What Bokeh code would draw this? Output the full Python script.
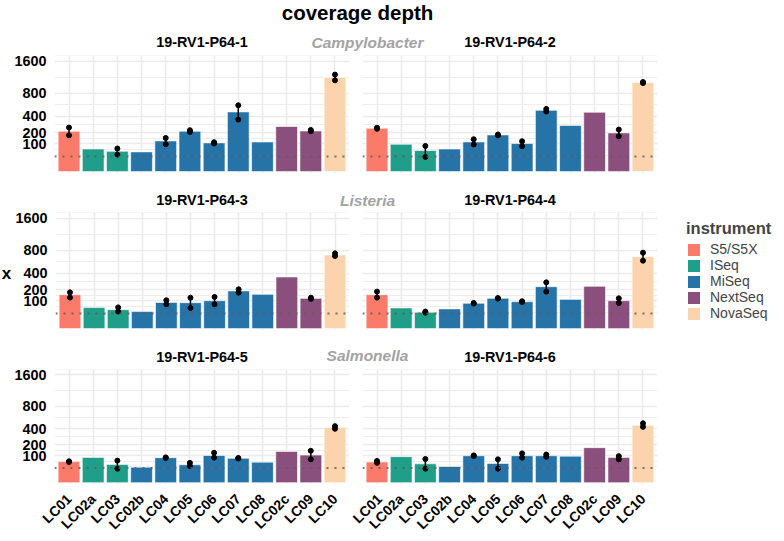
import numpy as np
from bokeh.plotting import figure
from bokeh.models import (ColumnDataSource, FactorRange, Range1d, FixedTicker, CategoricalTicker,
                          Span, Label, Legend, LegendItem, CustomJSTickFormatter)
from bokeh.layouts import column, row
from bokeh.embed import file_html
from bokeh.resources import INLINE

nan = float("nan")

categories = ["LC01", "LC02a", "LC03", "LC02b", "LC04", "LC05", "LC06", "LC07", "LC08", "LC02c", "LC09", "LC10"]
instrument_of = ["S5/S5X", "ISeq", "ISeq", "MiSeq", "MiSeq", "MiSeq", "MiSeq", "MiSeq", "MiSeq",
                 "NextSeq", "NextSeq", "NovaSeq"]
instruments = ["S5/S5X", "ISeq", "MiSeq", "NextSeq", "NovaSeq"]
instrument_colors = ["#FB7B6B", "#1F9E89", "#2573A7", "#8A4F7D", "#FBD4AE"]
panel_names = ["19-RV1-P64-1", "19-RV1-P64-2", "19-RV1-P64-3", "19-RV1-P64-4", "19-RV1-P64-5", "19-RV1-P64-6"]
species = ["Campylobacter", "Listeria", "Salmonella"]
y_ticks = [100, 200, 400, 800, 1600]
threshold = 30

# mean coverage (bar) and replicate range (low / high)
cov_1 = [213, 67, 54, 51, 123, 213, 108, 466, 115, 266, 216, 1157]
lo_1 = [173, nan, 38, nan, 98, 206, 103, 355, nan, nan, 213, 1091]
hi_1 = [254, nan, 70, nan, 148, 224, 113, 576, nan, nan, 227, 1231]

cov_2 = [246, 98, 58, 67, 115, 176, 103, 492, 278, 461, 196, 1037]
lo_2 = [240, nan, 28, nan, 96, 172, 84, 472, nan, nan, 164, 1025]
hi_2 = [252, nan, 86, nan, 137, 180, 121, 514, nan, nan, 231, 1050]

cov_3 = [151, 58, 47, 38, 90, 88, 102, 186, 154, 349, 120, 709]
lo_3 = [126, nan, 38, nan, 77, 56, 77, 169, nan, nan, 116, 690]
hi_3 = [172, nan, 59, nan, 105, 125, 131, 202, nan, nan, 125, 741]

cov_4 = [151, 56, 35, 51, 84, 120, 95, 230, 112, 234, 102, 677]
lo_4 = [126, nan, 33, nan, 82, 118, 92, 179, nan, nan, 86, 604]
hi_4 = [179, nan, 38, nan, 86, 122, 98, 280, nan, nan, 120, 754]

cov_5 = [61, 88, 46, 33, 86, 44, 102, 82, 58, 134, 105, 420]
lo_5 = [59, nan, 27, nan, 84, 38, 86, 80, nan, nan, 75, 400]
hi_5 = [63, nan, 67, nan, 88, 54, 123, 84, nan, nan, 140, 440]

cov_6 = [59, 93, 49, 36, 100, 51, 100, 100, 97, 169, 88, 454]
lo_6 = [54, nan, 27, nan, 98, 27, 86, 92, nan, nan, 75, 429]
hi_6 = [65, nan, 77, nan, 102, 75, 118, 109, nan, nan, 97, 486]

panels = [(cov_1, lo_1, hi_1), (cov_2, lo_2, hi_2), (cov_3, lo_3, hi_3),
          (cov_4, lo_4, hi_4), (cov_5, lo_5, hi_5), (cov_6, lo_6, hi_6)]

FONT = "Liberation Sans"
W, H = 784, 541
FRAME_W, FRAME_H = 295, 118
LEFT0, RIGHT0 = 54, 0
LEFT1 = 13
XLAB_W = 12
RIGHT1 = W - (LEFT0 + FRAME_W + RIGHT0) - (LEFT1 + FRAME_W)
TOP = 3
BOTTOM = 54
Y_START, Y_END = -0.68, 42.0

color_map = dict(zip(instruments, instrument_colors))
sq_ticks = [float(np.sqrt(v)) for v in y_ticks]
ext = [sq_ticks[0] - (sq_ticks[1] - sq_ticks[0])] + sq_ticks
minor = [(a + b) / 2 for a, b in zip(ext[:-1], ext[1:])] + [ext[0], 41.85]


def make_panel(i):
    cov, lo, hi = panels[i]
    c, r = i % 2, i // 2
    left = (LEFT0 - XLAB_W if i == 2 else LEFT0) if c == 0 else LEFT1
    right = RIGHT0 if c == 0 else 0
    bottom = BOTTOM if r == 2 else 0
    if c == 1 and r != 1:
        right = RIGHT1
    p = figure(x_range=FactorRange(factors=categories, range_padding=0.1, range_padding_units="absolute"),
               y_range=Range1d(Y_START, Y_END),
               width=left + FRAME_W + right, height=TOP + FRAME_H + bottom,
               min_border_left=left, min_border_right=right,
               min_border_top=TOP, min_border_bottom=bottom,
               output_backend="svg", toolbar_location=None)
    p.outline_line_color = None
    p.background_fill_color = "white"
    p.border_fill_color = "white"

    src = ColumnDataSource(dict(
        x=categories,
        top=np.sqrt(np.array(cov, dtype=float)),
        lo=np.sqrt(np.array(lo, dtype=float)),
        hi=np.sqrt(np.array(hi, dtype=float)),
        color=[color_map[k] for k in instrument_of],
    ))
    p.vbar(x="x", top="top", bottom=0, width=0.9, source=src,
           fill_color="color", line_color="white", line_width=0.6)
    p.segment(x0="x", y0="lo", x1="x", y1="hi", source=src, line_color="black", line_width=1.5)
    p.scatter(x="x", y="lo", source=src, size=5, color="black")
    p.scatter(x="x", y="hi", source=src, size=5, color="black")

    p.add_layout(Span(location=float(np.sqrt(threshold)), dimension="width", line_color="#6a5a5a",
                      line_dash="2 6", line_width=2, line_alpha=0.85))

    p.ygrid.ticker = FixedTicker(ticks=sq_ticks, minor_ticks=minor)
    p.ygrid.grid_line_color = "#EBEBEB"
    p.ygrid.grid_line_width = 1.6
    p.ygrid.minor_grid_line_color = "#EBEBEB"
    p.ygrid.minor_grid_line_width = 0.9
    p.xgrid.ticker = CategoricalTicker()
    p.xgrid.grid_line_color = "#EBEBEB"
    p.xgrid.grid_line_width = 1.6

    if c == 0:
        ax = p.yaxis[0]
        ax.ticker = FixedTicker(ticks=sq_ticks)
        ax.formatter = CustomJSTickFormatter(code="return String(Math.round(tick*tick));")
        ax.major_tick_line_color = None
        ax.minor_tick_line_color = None
        ax.major_tick_out = 0
        ax.minor_tick_out = 0
        ax.axis_line_color = None
        ax.major_label_standoff = 8
        ax.major_label_text_font = FONT
        ax.major_label_text_font_style = "bold"
        ax.major_label_text_font_size = "14.4px"
        ax.major_label_text_color = "black"
    else:
        p.yaxis.visible = False

    if r == 2:
        ax = p.xaxis[0]
        ax.major_label_orientation = np.pi / 4
        ax.major_tick_line_color = None
        ax.major_tick_out = 0
        ax.axis_line_color = None
        ax.major_label_standoff = 12
        ax.major_label_text_font = FONT
        ax.major_label_text_font_style = "bold"
        ax.major_label_text_font_size = "14px"
        ax.major_label_text_color = "black"
    else:
        p.xaxis.visible = False
    return p, src


def make_text_fig(w, h, texts):
    p = figure(width=w, height=h, x_range=Range1d(0, w), y_range=Range1d(h, 0),
               x_axis_type=None, y_axis_type=None, min_border=0,
               output_backend="svg", toolbar_location=None)
    p.outline_line_color = None
    p.xgrid.visible = False
    p.ygrid.visible = False
    p.background_fill_color = "white"
    p.border_fill_color = "white"
    for (x, y, t, size, style, color) in texts:
        p.add_layout(Label(x=x, y=y, text=t, text_font=FONT, text_font_style=style,
                           text_font_size=size, text_color=color,
                           text_align="center", text_baseline="middle"))
    return p


def make_legend_fig(src):
    # legend panel: the bar renderer shares panel 4's data but sits outside the visible range
    p = figure(width=RIGHT1, height=TOP + FRAME_H,
               x_range=FactorRange(factors=categories), y_range=Range1d(1000, 2000),
               x_axis_type=None, y_axis_type=None, min_border=0,
               output_backend="svg", toolbar_location=None)
    p.outline_line_color = None
    p.xgrid.visible = False
    p.ygrid.visible = False
    p.background_fill_color = "white"
    p.border_fill_color = "white"
    r = p.vbar(x="x", top="top", bottom=0, width=0.9, source=src, fill_color="color", line_color=None)
    items = [LegendItem(label=inst, renderers=[r], index=instrument_of.index(inst)) for inst in instruments]
    leg = Legend(items=items, location=(29, 9), title="instrument",
                 title_text_font=FONT, title_text_font_style="bold", title_text_font_size="16.5px",
                 title_standoff=3,
                 label_text_font=FONT, label_text_font_size="14px",
                 glyph_width=15, glyph_height=15, label_height=15, spacing=0,
                 label_standoff=9, padding=0, margin=0,
                 border_line_color=None, background_fill_alpha=0)
    p.add_layout(leg)
    return p


c0 = LEFT0 + FRAME_W / 2
c1 = LEFT0 + FRAME_W + RIGHT0 + LEFT1 + FRAME_W / 2
sp_x = 367
GRAY = "#A3A3A3"
SS = "14.4px"
SP = "15.5px"

header0 = make_text_fig(W, 55 - TOP, [
    (357, 11.5, "coverage depth", "20.5px", "bold", "black"),
    (c0, 41, panel_names[0], SS, "bold", "black"),
    (c1, 41, panel_names[1], SS, "bold", "black"),
    (sp_x, 42.2, species[0], SP, "bold italic", GRAY),
])
header1 = make_text_fig(W, 39 - TOP, [
    (c0, 26.3, panel_names[2], SS, "bold", "black"),
    (c1, 26.3, panel_names[3], SS, "bold", "black"),
    (sp_x, 26.9, species[1], SP, "bold italic", GRAY),
])
header2 = make_text_fig(W, 39 - TOP, [
    (c0, 26.7, panel_names[4], SS, "bold", "black"),
    (c1, 26.7, panel_names[5], SS, "bold", "black"),
    (sp_x, 25.0, species[2], SP, "bold italic", GRAY),
])
ylab = make_text_fig(XLAB_W, TOP + FRAME_H, [
    (6, TOP + 60, "x", "17px", "bold", "black"),
])

built = [make_panel(i) for i in range(6)]
figs = [b[0] for b in built]
legfig = make_legend_fig(built[3][1])

layout = column(header0, row(figs[0], figs[1]), header1, row(ylab, figs[2], figs[3], legfig),
                header2, row(figs[4], figs[5]), spacing=0)

open("out.html", "w").write(file_html(layout, INLINE))
